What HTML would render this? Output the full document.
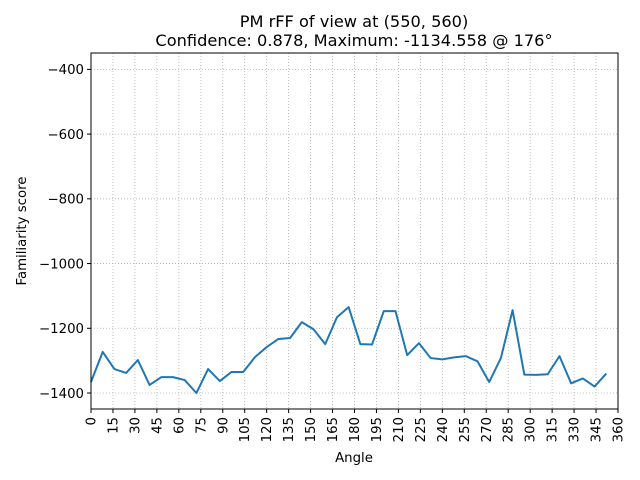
<!DOCTYPE html>
<html><head><meta charset="utf-8"><style>body{margin:0;background:#fff}svg{display:block;font-family:"DejaVu Sans","Liberation Sans",sans-serif}</style></head>
<body>
<svg id="chart" width="640" height="480" viewBox="0 0 640 480">
<rect width="640" height="480" fill="#fff"/>
<text x="354" y="27" text-anchor="middle" font-size="16.2">PM rFF of view at (550, 560)</text>
<text x="354" y="46" text-anchor="middle" font-size="16.2">Confidence: 0.878, Maximum: -1134.558 @ 176°</text>
<g id="grid"></g><g id="ticks"></g>
<polyline id="line" fill="none" stroke="#1f77b4" stroke-width="2" stroke-linejoin="round"/>
<rect x="91" y="53" width="527" height="356" fill="none" stroke="#000" stroke-width="1"/>
<text x="354" y="462" text-anchor="middle" font-size="13.3">Angle</text>
<text x="0" y="0" transform="translate(26,231) rotate(-90)" text-anchor="middle" font-size="13.3">Familiarity score</text>
</svg>
<script>
const angles=[0,8,16,24,32,40,48,56,64,72,80,88,96,104,112,120,128,136,144,152,160,168,176,184,192,200,208,216,224,232,240,248,256,264,272,280,288,296,304,312,320,328,336,344,352];
const scores=[-1366,-1273,-1326,-1338,-1298,-1375,-1351,-1351,-1360,-1400,-1326,-1363,-1335,-1335,-1289,-1258,-1233,-1230,-1181,-1203,-1249,-1166,-1134.6,-1249,-1250,-1147,-1147,-1283,-1246,-1292,-1296,-1290,-1286,-1302,-1366,-1292,-1144,-1343,-1344,-1342,-1286,-1370,-1355,-1380,-1340];
const xTicks=[0,15,30,45,60,75,90,105,120,135,150,165,180,195,210,225,240,255,270,285,300,315,330,345,360];
const yTicks=[-400,-600,-800,-1000,-1200,-1400];
const NS="http://www.w3.org/2000/svg";
const X=v=>91+v*527/360;
const Y=v=>53+(-349.4-v)*356/1100;
const grid=document.getElementById('grid'),ticks=document.getElementById('ticks');
function mk(t,a,p){const e=document.createElementNS(NS,t);for(const k in a)e.setAttribute(k,a[k]);p.appendChild(e);return e;}
xTicks.forEach(v=>{const x=X(v);
const g=mk('line',{x1:x,x2:x,y1:53,y2:409,stroke:'#b0b0b0','stroke-width':0.8,'stroke-dasharray':'1,2'},grid);


const t=mk('line',{x1:x,x2:x,y1:409,y2:413,stroke:'#000'},ticks);


const l=mk('text',{transform:`translate(${x+4.5},417) rotate(-90)`,'text-anchor':'end','font-size':13.3},ticks);l.textContent=v;

});
yTicks.forEach(v=>{const y=Y(v);
const g=mk('line',{x1:91,x2:618,y1:y,y2:y,stroke:'#b0b0b0','stroke-width':0.8,'stroke-dasharray':'1,2'},grid);


const t=mk('line',{x1:87,x2:91,y1:y,y2:y,stroke:'#000'},ticks);


const l=mk('text',{x:84,y:y+4.8,'text-anchor':'end','font-size':13.3},ticks);l.textContent='\u2212'+Math.abs(v);

});
document.getElementById('line').setAttribute('points',angles.map((a,i)=>X(a)+','+Y(scores[i])).join(' '));
</script>
</body></html>
